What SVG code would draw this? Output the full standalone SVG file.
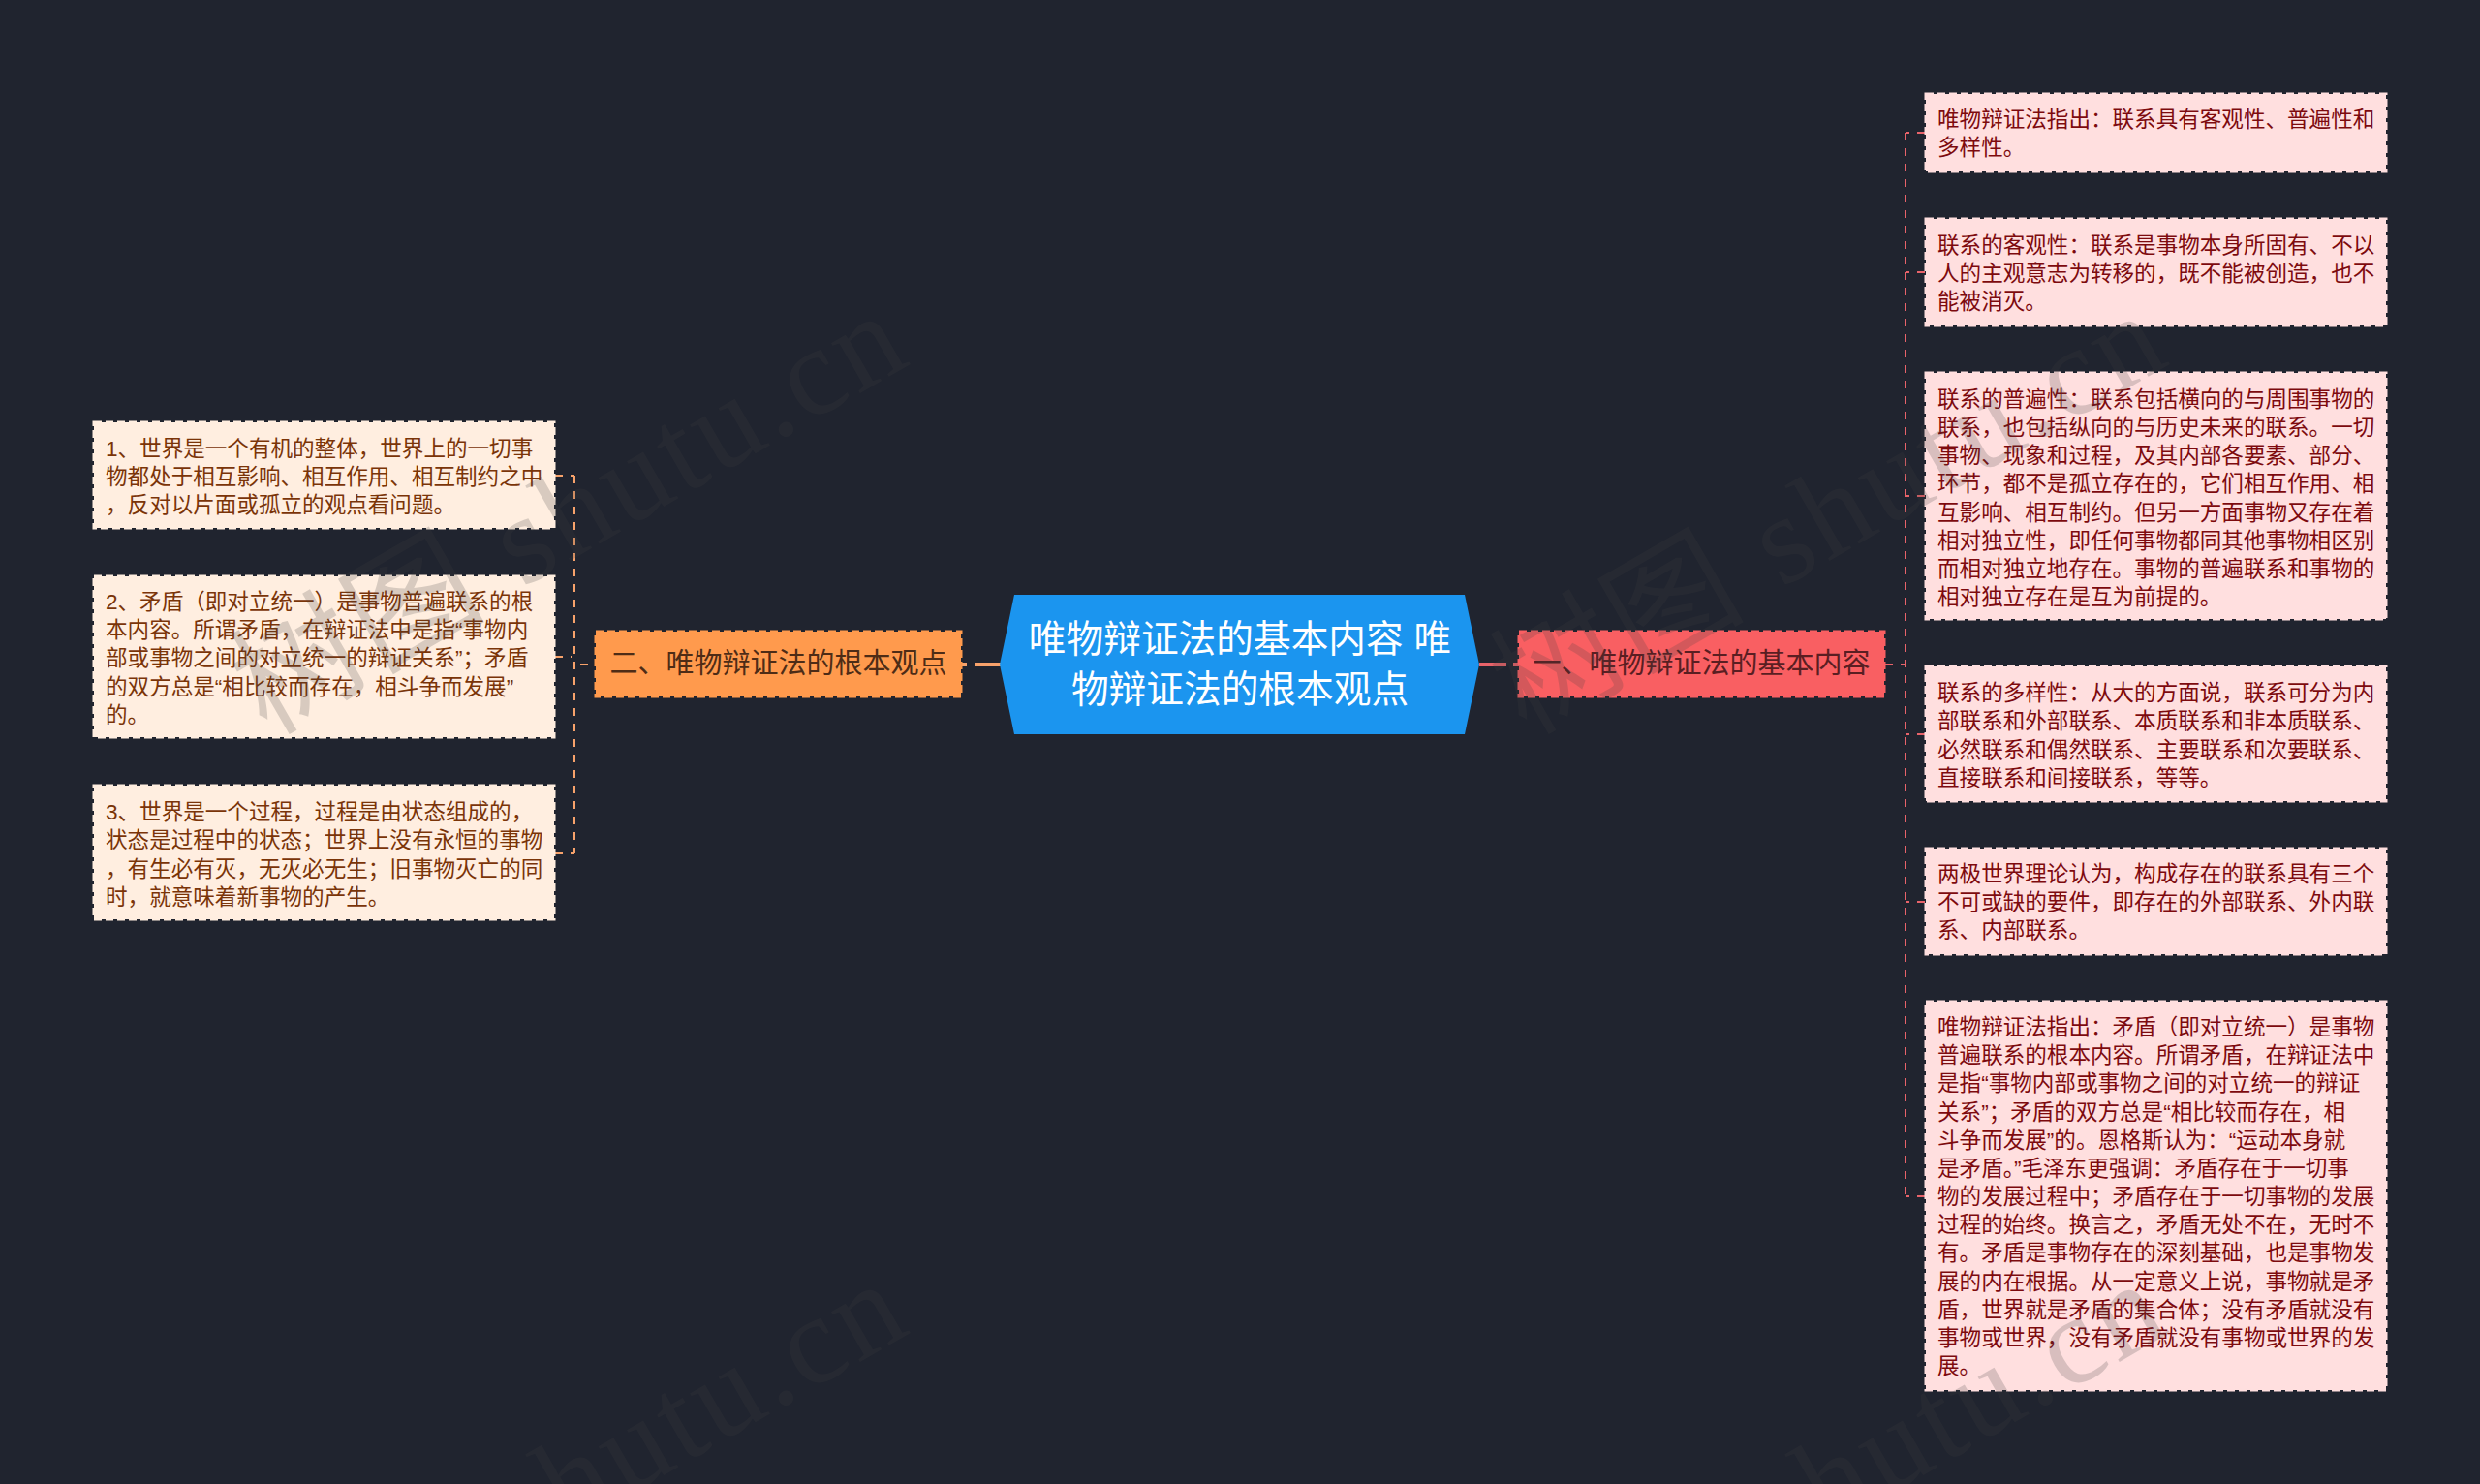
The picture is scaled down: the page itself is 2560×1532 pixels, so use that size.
<svg xmlns="http://www.w3.org/2000/svg" width="2560" height="1532" viewBox="0 0 2560 1532">
<style>
text{font-family:"Liberation Sans","Noto Sans CJK SC",sans-serif}
.t{font-size:22.57px}
.r rect{fill:#ffdfdf;stroke:#ffdfdf;stroke-width:3;stroke-dasharray:8 4}
.r text{fill:#7d0a0e}
.o rect{fill:#ffeee0;stroke:#ffeee0;stroke-width:3;stroke-dasharray:8 4}
.o text{fill:#7a3408}
.c{fill:none;stroke-width:2;stroke-dasharray:8 8}
.cl{stroke:#f7a26b}
.cr{stroke:#e8636a}
.s{fill:none;stroke-width:4}
.wm{font-family:"Liberation Serif","Noto Sans CJK SC",serif;font-size:130px;letter-spacing:4px;fill:#414141;opacity:.2;text-anchor:end}
</style>
<rect width="2560" height="1532" fill="#20242f"/>
<g id="connectors">
<path class="s cl" d="M1006 686H1033"/>
<path class="s cl" d="M993 686H998"/>
<path class="s cr" d="M1527 686H1555"/>
<path class="s cr" d="M1562 686H1567"/>
<path class="c cl" d="M593 491V881"/>
<path class="c cl" d="M573 491H593"/>
<path class="c cl" d="M573 678H590"/>
<path class="c cl" d="M573 881H593"/>
<path class="c cl" d="M607 686H593"/>
<path class="c cr" d="M1967 137V1235"/>
<path class="c cr" d="M1987 137H1967"/>
<path class="c cr" d="M1987 281H1967"/>
<path class="c cr" d="M1987 512H1967"/>
<path class="c cr" d="M1987 758H1967"/>
<path class="c cr" d="M1987 931H1967"/>
<path class="c cr" d="M1987 1235H1967"/>
<path class="c cr" d="M1946 686H1967"/>
</g>
<g id="root"><polygon points="1047,614 1512,614 1527,686 1512,758 1047,758 1032,686" fill="#1b95ef"/>
<text font-size="38.7" fill="#fff" text-anchor="middle"><tspan x="1280" y="673">唯物辩证法的基本内容 唯</tspan><tspan x="1280" y="725">物辩证法的根本观点</tspan></text></g>
<g id="branch-left"><rect x="615" y="652" width="377" height="67" fill="#ff9a4d" stroke="#ff9a4d" stroke-width="3" stroke-dasharray="8 4"/><text x="803.5" y="695" font-size="29" fill="#4e2c16" text-anchor="middle">二、唯物辩证法的根本观点</text></g>
<g id="branch-right"><rect x="1568" y="652" width="377" height="67" fill="#f95f62" stroke="#f95f62" stroke-width="3" stroke-dasharray="8 4"/><text x="1756.5" y="695" font-size="29" fill="#5a1e22" text-anchor="middle">一、唯物辩证法的基本内容</text></g>
<g id="left-1" class="o"><rect x="97" y="436" width="475" height="109"/><text class="t"><tspan x="109" y="471">1、世界是一个有机的整体，世界上的一切事</tspan><tspan x="109" y="500">物都处于相互影响、相互作用、相互制约之中</tspan><tspan x="109" y="529">，反对以片面或孤立的观点看问题。</tspan></text></g>
<g id="left-2" class="o"><rect x="97" y="595" width="475" height="166"/><text class="t"><tspan x="109" y="629">2、矛盾（即对立统一）是事物普遍联系的根</tspan><tspan x="109" y="658">本内容。所谓矛盾，在辩证法中是指“事物内</tspan><tspan x="109" y="687">部或事物之间的对立统一的辩证关系”；矛盾</tspan><tspan x="109" y="717">的双方总是“相比较而存在，相斗争而发展”</tspan><tspan x="109" y="746">的。</tspan></text></g>
<g id="left-3" class="o"><rect x="97" y="811" width="475" height="138"/><text class="t"><tspan x="109" y="846">3、世界是一个过程，过程是由状态组成的，</tspan><tspan x="109" y="875">状态是过程中的状态；世界上没有永恒的事物</tspan><tspan x="109" y="905">，有生必有灭，无灭必无生；旧事物灭亡的同</tspan><tspan x="109" y="934">时，就意味着新事物的产生。</tspan></text></g>
<g id="right-1" class="r"><rect x="1988" y="97" width="475" height="80"/><text class="t"><tspan x="2000" y="131">唯物辩证法指出：联系具有客观性、普遍性和</tspan><tspan x="2000" y="160">多样性。</tspan></text></g>
<g id="right-2" class="r"><rect x="1988" y="226" width="475" height="110"/><text class="t"><tspan x="2000" y="261">联系的客观性：联系是事物本身所固有、不以</tspan><tspan x="2000" y="290">人的主观意志为转移的，既不能被创造，也不</tspan><tspan x="2000" y="319">能被消灭。</tspan></text></g>
<g id="right-3" class="r"><rect x="1988" y="385" width="475" height="254"/><text class="t"><tspan x="2000" y="420">联系的普遍性：联系包括横向的与周围事物的</tspan><tspan x="2000" y="449">联系，也包括纵向的与历史未来的联系。一切</tspan><tspan x="2000" y="478">事物、现象和过程，及其内部各要素、部分、</tspan><tspan x="2000" y="507">环节，都不是孤立存在的，它们相互作用、相</tspan><tspan x="2000" y="537">互影响、相互制约。但另一方面事物又存在着</tspan><tspan x="2000" y="566">相对独立性，即任何事物都同其他事物相区别</tspan><tspan x="2000" y="595">而相对独立地存在。事物的普遍联系和事物的</tspan><tspan x="2000" y="624">相对独立存在是互为前提的。</tspan></text></g>
<g id="right-4" class="r"><rect x="1988" y="688" width="475" height="139"/><text class="t"><tspan x="2000" y="723">联系的多样性：从大的方面说，联系可分为内</tspan><tspan x="2000" y="752">部联系和外部联系、本质联系和非本质联系、</tspan><tspan x="2000" y="782">必然联系和偶然联系、主要联系和次要联系、</tspan><tspan x="2000" y="811">直接联系和间接联系，等等。</tspan></text></g>
<g id="right-5" class="r"><rect x="1988" y="876" width="475" height="109"/><text class="t"><tspan x="2000" y="910">两极世界理论认为，构成存在的联系具有三个</tspan><tspan x="2000" y="939">不可或缺的要件，即存在的外部联系、外内联</tspan><tspan x="2000" y="968">系、内部联系。</tspan></text></g>
<g id="right-6" class="r"><rect x="1988" y="1034" width="475" height="401"/><text class="t"><tspan x="2000" y="1068">唯物辩证法指出：矛盾（即对立统一）是事物</tspan><tspan x="2000" y="1097">普遍联系的根本内容。所谓矛盾，在辩证法中</tspan><tspan x="2000" y="1126">是指“事物内部或事物之间的对立统一的辩证</tspan><tspan x="2000" y="1156">关系”；矛盾的双方总是“相比较而存在，相</tspan><tspan x="2000" y="1185">斗争而发展”的。恩格斯认为：“运动本身就</tspan><tspan x="2000" y="1214">是矛盾。”毛泽东更强调：矛盾存在于一切事</tspan><tspan x="2000" y="1243">物的发展过程中；矛盾存在于一切事物的发展</tspan><tspan x="2000" y="1272">过程的始终。换言之，矛盾无处不在，无时不</tspan><tspan x="2000" y="1301">有。矛盾是事物存在的深刻基础，也是事物发</tspan><tspan x="2000" y="1331">展的内在根据。从一定意义上说，事物就是矛</tspan><tspan x="2000" y="1360">盾，世界就是矛盾的集合体；没有矛盾就没有</tspan><tspan x="2000" y="1389">事物或世界，没有矛盾就没有事物或世界的发</tspan><tspan x="2000" y="1418">展。</tspan></text></g>
<g id="watermark">
<text class="wm" transform="translate(945 373) rotate(-30)">树图 shutu.cn</text>
<text class="wm" transform="translate(2245 373) rotate(-30)">树图 shutu.cn</text>
<text class="wm" transform="translate(945 1373) rotate(-30)">树图 shutu.cn</text>
<text class="wm" transform="translate(2245 1373) rotate(-30)">树图 shutu.cn</text>
</g>
</svg>
